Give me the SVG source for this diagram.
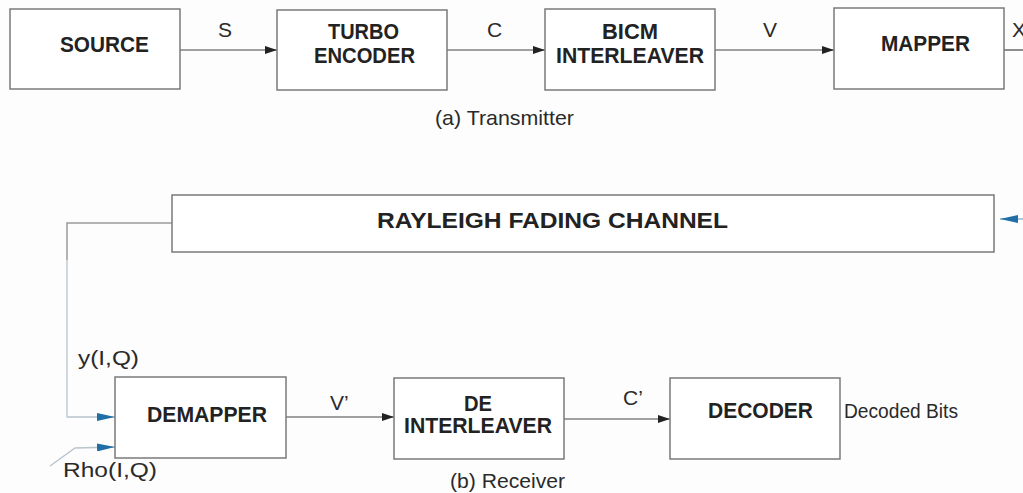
<svg xmlns="http://www.w3.org/2000/svg" width="1023" height="493" viewBox="0 0 1023 493">
<defs>
<style>
.box{fill:#fff;stroke:#7a7a7a;stroke-width:1.5}
.b{font-family:"Liberation Sans",Arial,sans-serif;font-weight:bold;font-size:22px;fill:#222}
.r{font-family:"Liberation Sans",Arial,sans-serif;font-size:21px;fill:#2a2a2a}
.w{stroke:#444;stroke-width:1.2;fill:none}
.g{stroke:#9a9a9a;stroke-width:1.5;fill:none}
.lb{stroke:#b8c4ce;stroke-width:1.3;fill:none}
</style>
<marker id="ah" markerWidth="12" markerHeight="8" refX="12" refY="4" orient="auto" markerUnits="userSpaceOnUse">
<path d="M0,0 L12,4 L0,8 Z" fill="#222"/>
</marker>
<marker id="bh" markerWidth="18" markerHeight="8" refX="18" refY="4" orient="auto" markerUnits="userSpaceOnUse">
<path d="M0,0 L18,4 L0,8 Z" fill="#1f6ea6"/>
</marker>
</defs>
<rect width="1023" height="493" fill="#fdfdfd"/>

<g id="connectors">
<line class="w" x1="180" y1="50" x2="277" y2="50" marker-end="url(#ah)"/>
<line class="w" x1="447" y1="50" x2="545" y2="50" marker-end="url(#ah)"/>
<line class="w" x1="715" y1="50" x2="834" y2="50" marker-end="url(#ah)"/>
<line class="w" x1="1004" y1="50" x2="1023" y2="50"/>
<line x1="1023" y1="219" x2="1000" y2="219" stroke="#7fa6c4" stroke-width="1.2" marker-end="url(#bh)"/>
<polyline class="g" points="172,223 67,223 67,260"/>
<polyline class="lb" points="67,260 67,417 115,417" marker-end="url(#bh)"/>
<polyline class="lb" points="50,466 75,448 115,447" marker-end="url(#bh)"/>
<line class="w" x1="286" y1="417" x2="394" y2="417" marker-end="url(#ah)"/>
<line class="w" x1="564" y1="419" x2="670" y2="419" marker-end="url(#ah)"/>
<text class="r" x="218" y="37">S</text>
<text class="r" x="487" y="37">C</text>
<text class="r" x="763" y="37">V</text>
<text class="r" x="1012" y="37">X</text>
<text class="r" x="330" y="410">V’</text>
<text class="r" x="623" y="405">C’</text>
<text class="r" x="78" y="365" textLength="61" lengthAdjust="spacingAndGlyphs">y(I,Q)</text>
<text class="r" x="63" y="477" textLength="94" lengthAdjust="spacingAndGlyphs">Rho(I,Q)</text>
<text class="r" x="844" y="418" textLength="114" lengthAdjust="spacingAndGlyphs" style="font-size:19.5px">Decoded Bits</text>
</g>

<g id="source">
<rect class="box" x="10" y="9" width="170" height="80"/>
<text class="b" x="60" y="52" textLength="89" lengthAdjust="spacingAndGlyphs">SOURCE</text>
</g>
<g id="turbo-encoder">
<rect class="box" x="277" y="10" width="170" height="80"/>
<text class="b" x="328" y="39" textLength="71" lengthAdjust="spacingAndGlyphs">TURBO</text>
<text class="b" x="314" y="63" textLength="101" lengthAdjust="spacingAndGlyphs">ENCODER</text>
</g>
<g id="bicm-interleaver">
<rect class="box" x="545" y="9" width="170" height="81"/>
<text class="b" x="602" y="39" textLength="56" lengthAdjust="spacingAndGlyphs">BICM</text>
<text class="b" x="556" y="63" textLength="148" lengthAdjust="spacingAndGlyphs">INTERLEAVER</text>
</g>
<g id="mapper">
<rect class="box" x="834" y="8" width="170" height="81"/>
<text class="b" x="881" y="51" textLength="89" lengthAdjust="spacingAndGlyphs">MAPPER</text>
</g>
<g id="transmitter-caption">
<text class="r" x="435" y="125" textLength="139" lengthAdjust="spacingAndGlyphs">(a) Transmitter</text>
</g>
<g id="rayleigh-channel">
<rect class="box" x="172" y="195" width="822" height="57"/>
<text class="b" x="377" y="228" textLength="351" lengthAdjust="spacingAndGlyphs">RAYLEIGH FADING CHANNEL</text>
</g>
<g id="demapper">
<rect class="box" x="115" y="377" width="171" height="81"/>
<text class="b" x="147" y="422" textLength="120" lengthAdjust="spacingAndGlyphs">DEMAPPER</text>
</g>
<g id="de-interleaver">
<rect class="box" x="394" y="378" width="170" height="81"/>
<text class="b" x="464" y="411" textLength="28" lengthAdjust="spacingAndGlyphs">DE</text>
<text class="b" x="404" y="433" textLength="148" lengthAdjust="spacingAndGlyphs">INTERLEAVER</text>
</g>
<g id="decoder">
<rect class="box" x="670" y="378" width="170" height="81"/>
<text class="b" x="708" y="418" textLength="105" lengthAdjust="spacingAndGlyphs">DECODER</text>
</g>
<g id="receiver-caption">
<text class="r" x="450" y="488" textLength="115" lengthAdjust="spacingAndGlyphs">(b) Receiver</text>
</g>
</svg>
